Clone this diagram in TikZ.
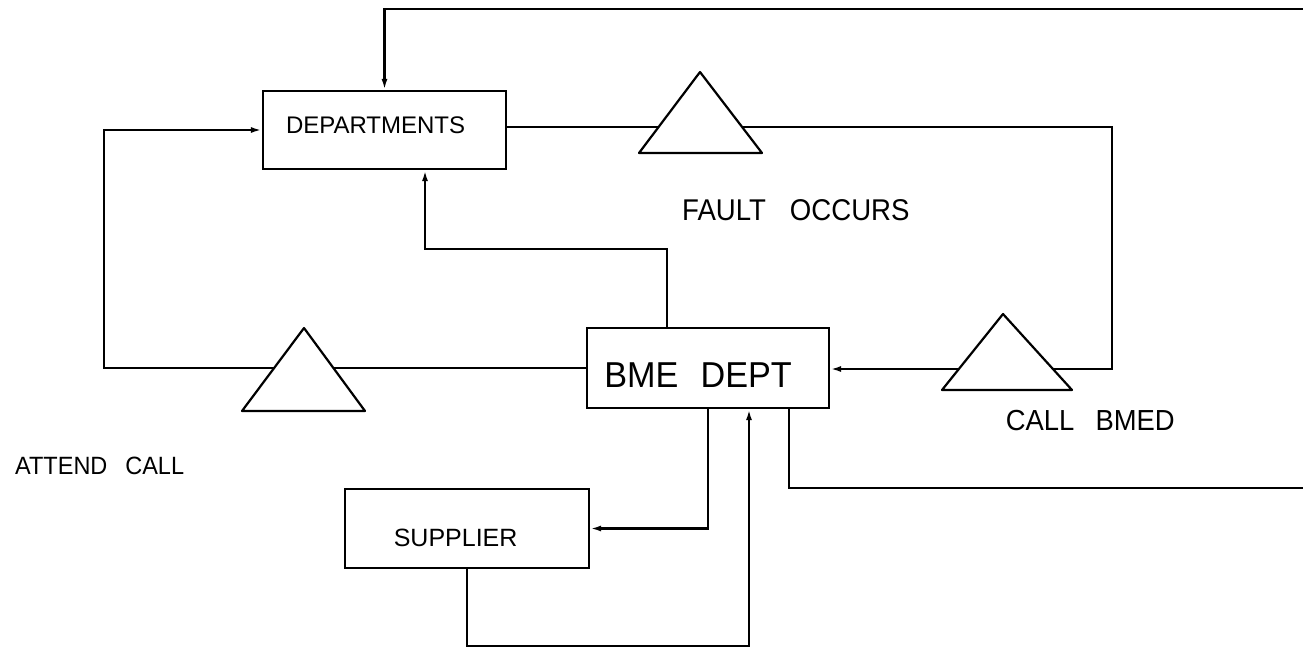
\documentclass[tikz,border=0pt]{standalone}
\usepackage{fontspec}
\setmainfont{Liberation Sans}
\usepackage{graphicx}
\usetikzlibrary{arrows.meta,calc}
% label text: size, horizontal squeeze, text
\newcommand\lbl[3]{\scalebox{#2}[1]{\fontsize{#1}{#1}\selectfont #3}}

\begin{document}
\begin{tikzpicture}[x=1pt,y=-1pt,
  line/.style={line width=2.2pt, line join=miter},
  conn/.style={line, -{Latex[length=11pt,width=6pt]}},
  box/.style={draw, line width=2.2pt, inner ysep=0pt, align=left},
  tri/.style={draw, line width=2.2pt, fill=white, line join=round},
  txt/.style={anchor=base west, inner sep=0pt}]

\fill[white] (0,0) rectangle (1303,648);
\useasboundingbox (0,0) rectangle (1303,648);

% boxes
\node[box, minimum width=243pt, minimum height=78pt, inner xsep=23pt,
      text width=197pt, text depth=10pt] (dep) at (384.5,130)
      {\noindent\lbl{24}{1}{DEPARTMENTS}};
\node[box, minimum width=242pt, minimum height=80pt, inner xsep=17.3pt,
      text width=207.4pt, text height=38pt, text depth=0pt] (bme) at (708,368)
      {\noindent\lbl{36}{.95}{BME\hspace{23.4pt}DEPT}};
\node[box, minimum width=244pt, minimum height=79pt, inner xsep=48.8pt,
      text width=146.4pt, text height=35pt, text depth=0pt] (sup) at (467,528.5)
      {\noindent\lbl{25}{1}{SUPPLIER}};

% free labels
\node[txt] (fault) at (682,220) {\lbl{30}{.92}{FAULT\hspace{26pt}OCCURS}};
\node[txt] (callb) at (1005.6,430) {\lbl{29}{.945}{CALL\hspace{22.5pt}BMED}};
\node[txt] (attend) at (15,474) {\lbl{25}{.94}{ATTEND\hspace{19pt}CALL}};

% bend points
\coordinate (tin) at (1303,9);
\coordinate (rc) at (1112,127);
\coordinate (rd) at (1112,369);
\coordinate (ll) at (104,368);
\coordinate (lu) at (104,130);
\coordinate (m1) at (425,249);
\coordinate (s1) at (749,646);
\coordinate (bout) at (1303,488);

% connectors
\draw[conn] (tin) -| (dep.north);
\draw[conn] ($(dep.east)+(0,-3)$) -- (rc) -- (rd) -- (bme.east |- rd);
\draw[conn] (bme.west) -- (ll) -- (lu) -- (dep.west);
\draw[conn] ($(bme.north)+(-41,0)$) |- (m1) -- ($(dep.south)+(40.5,0)$);
\draw[conn] (bme.south) |- (sup.east);
\draw[conn] (sup.south) |- (s1) -- ($(bme.south)+(41,0)$);
\draw[line] ($(bme.south)+(81,0)$) |- (bout);

% triangles sitting on the loops
\draw[tri] (639,153) -- (700,72) -- (762,153) -- cycle;
\draw[tri] (242,411) -- (304,328) -- (365,411) -- cycle;
\draw[tri] (942,390) -- (1003,314) -- (1072,390) -- cycle;
\end{tikzpicture}
\end{document}
